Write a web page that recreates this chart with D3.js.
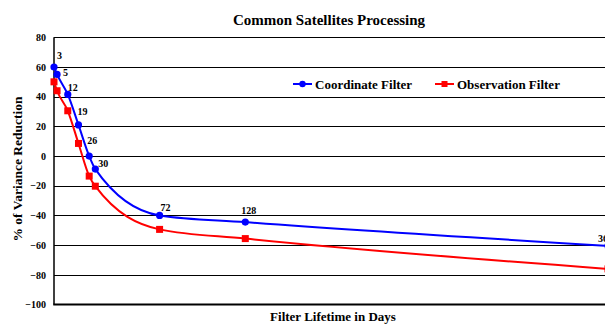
<!DOCTYPE html>
<html>
<head>
<meta charset="utf-8">
<script src="https://cdn.jsdelivr.net/npm/d3@7"></script>
<style>
  html, body { margin: 0; padding: 0; background: #fff; }
  svg { display: block; font-family: "Liberation Serif", "Times New Roman", serif; font-weight: bold; }
</style>
</head>
<body>
<svg id="chart" width="605" height="324"></svg>
<script>
// Filter lifetime (days) and % variance reduction for each filter
const days = [3, 5, 12, 19, 26, 30, 72, 128, 365];
const coordinateFilter = [60, 55, 41.5, 21, 0, -8.8, -40, -44.5, -60.5];
const observationFilter = [50, 44, 30.5, 8.5, -13.5, -20.3, -49.4, -55.6, -76];
const yTicks = [80, 60, 40, 20, 0, -20, -40, -60, -80, -100];
// per-label nudge from its point: [dx, dy]
const labelNudge = [[3, -8], [6, 2], [0, -3], [-1, -10], [-2, -12], [3, -2], [1, -4], [-4, -8], [-10, -4]];

const svg = d3.select("#chart");
const plotLeft = 54, plotTop = 37.3, plotBottom = 304.5, plotRight = 615;

const x = d3.scaleLinear().domain([3, 365]).range([plotLeft, 608]);
const y = d3.scaleLinear().domain([-100, 80]).range([plotBottom, plotTop]);

// title
svg.append("text").attr("x", 329).attr("y", 25).attr("text-anchor", "middle")
  .attr("font-size", 15).text("Common Satellites Processing");

// horizontal gridlines
svg.append("g").selectAll("line").data(yTicks.filter(d => d !== -100)).join("line")
  .attr("x1", plotLeft).attr("x2", plotRight)
  .attr("y1", d => Math.round(y(d)) + 0.5).attr("y2", d => Math.round(y(d)) + 0.5)
  .attr("stroke", "#000").attr("stroke-width", 1);

// y axis
const yAxis = d3.axisLeft(y).tickValues(yTicks).tickSize(0).tickPadding(8);
const gy = svg.append("g").attr("transform", `translate(${plotLeft},0)`).call(yAxis);
gy.select(".domain").remove();
gy.selectAll("text").attr("font-size", 10).attr("font-family", "Liberation Serif, serif")
  .attr("font-weight", "bold").attr("fill", "#000");

// axis lines
svg.append("line").attr("x1", plotLeft).attr("x2", plotLeft).attr("y1", plotTop).attr("y2", plotBottom)
  .attr("stroke", "#000").attr("stroke-width", 1.5);
svg.append("line").attr("x1", plotLeft - 0.75).attr("x2", plotRight).attr("y1", plotBottom).attr("y2", plotBottom)
  .attr("stroke", "#000").attr("stroke-width", 2);

// axis titles
svg.append("text").attr("x", 333).attr("y", 321).attr("text-anchor", "middle")
  .attr("font-size", 13).text("Filter Lifetime in Days");
svg.append("text").attr("transform", "translate(22,169) rotate(-90)").attr("text-anchor", "middle")
  .attr("font-size", 13.5).text("% of Variance Reduction");

const line = d3.line().curve(d3.curveMonotoneX).x((d, i) => x(days[i])).y(d => y(d));

const blue = "#0000ff", red = "#ff0000";

svg.append("path").datum(observationFilter).attr("d", line)
  .attr("fill", "none").attr("stroke", red).attr("stroke-width", 2);
svg.append("path").datum(coordinateFilter).attr("d", line)
  .attr("fill", "none").attr("stroke", blue).attr("stroke-width", 2);

svg.append("g").selectAll("rect").data(observationFilter).join("rect")
  .attr("x", (d, i) => x(days[i]) - 3.5).attr("y", d => y(d) - 3.5)
  .attr("width", 7).attr("height", 7).attr("fill", red);
svg.append("g").selectAll("circle").data(coordinateFilter).join("circle")
  .attr("cx", (d, i) => x(days[i])).attr("cy", d => y(d)).attr("r", 3.6).attr("fill", blue);

// day labels on the coordinate filter points
svg.append("g").selectAll("text").data(coordinateFilter).join("text")
  .attr("x", (d, i) => x(days[i]) + labelNudge[i][0])
  .attr("y", (d, i) => y(d) + labelNudge[i][1])
  .attr("font-size", 10).text((d, i) => days[i]);

// legend
const legend = [
  { name: "Coordinate Filter", color: blue, shape: "circle", x: 293 },
  { name: "Observation Filter", color: red, shape: "square", x: 435 }
];
const lg = svg.append("g").selectAll("g").data(legend).join("g")
  .attr("transform", d => `translate(${d.x},84)`);
lg.append("line").attr("x1", 0).attr("x2", 19).attr("stroke", d => d.color).attr("stroke-width", 2);
lg.filter(d => d.shape === "circle").append("circle").attr("cx", 9.5).attr("r", 3.2).attr("fill", d => d.color);
lg.filter(d => d.shape === "square").append("rect").attr("x", 6.5).attr("y", -3).attr("width", 6).attr("height", 6).attr("fill", d => d.color);
lg.append("text").attr("x", 22).attr("y", 4.5).attr("font-size", 13).text(d => d.name);
</script>
</body>
</html>
